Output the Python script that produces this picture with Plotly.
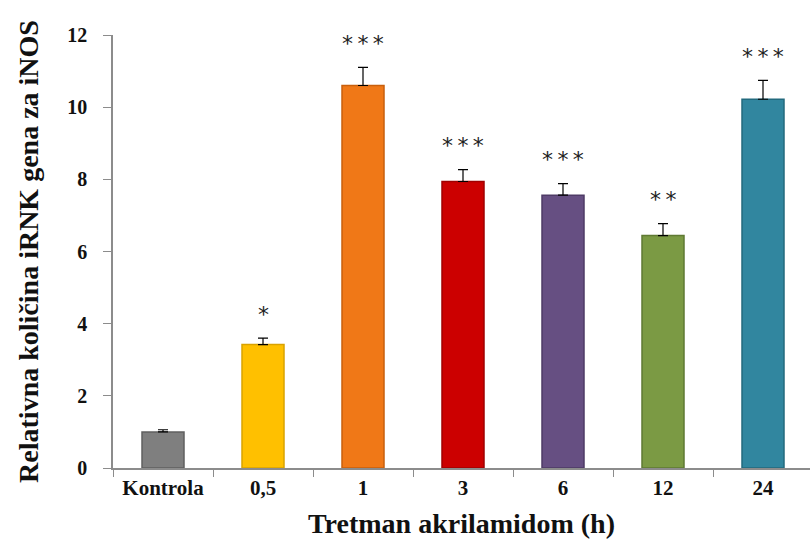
import plotly.graph_objects as go

categories = ["Kontrola", "0,5", "1", "3", "6", "12", "24"]
values = [1.0, 3.42, 10.6, 7.94, 7.56, 6.44, 10.22]
errors = [0.06, 0.18, 0.5, 0.33, 0.32, 0.33, 0.52]
significance = ["", "*", "*\u2009*\u2009*", "*\u2009*\u2009*", "*\u2009*\u2009*", "*\u2009*", "*\u2009*\u2009*"]
bar_colors = ["#7f7f7f", "#ffc000", "#f07817", "#cc0000", "#664f82", "#7b9a44", "#31869f"]
edge_colors = ["#606060", "#d9a200", "#c85f0c", "#a00000", "#4e3b66", "#5f7a33", "#236a7e"]

serif = "Liberation Serif, Times New Roman, serif"

fig = go.Figure()
fig.add_trace(go.Bar(
    x=categories,
    y=values,
    width=0.42,
    marker=dict(color=bar_colors, line=dict(color=edge_colors, width=1.5)),
    error_y=dict(type="data", array=errors, arrayminus=[0] * len(errors),
                 symmetric=False, color="#000000", thickness=1.2, width=5),
    showlegend=False,
))

# significance marks sit above each error bar (x given as category index)
for i, (v, e, s) in enumerate(zip(values, errors, significance)):
    if s:
        fig.add_annotation(
            x=i, y=v + e, text=s, showarrow=False, yshift=24,
            font=dict(family="DejaVu Sans, Arial, sans-serif", size=22, color="#222222"),
        )

fig.update_layout(
    width=810, height=554,
    margin=dict(l=113, r=0, t=35, b=86),
    paper_bgcolor="white", plot_bgcolor="white",
    xaxis=dict(
        type="category",
        range=[-0.5, 6.47],
        showline=True, linecolor="#8c8c8c", linewidth=1.5,
        ticks="outside", tickson="boundaries", ticklen=7, tickcolor="#8c8c8c",
        tickfont=dict(family=serif, size=21, color="#111111", weight="bold"),
        title=dict(text="<b>Tretman akrilamidom (h)</b>", standoff=14,
                   font=dict(family=serif, size=28, color="#111111")),
        showgrid=False,
    ),
    yaxis=dict(
        range=[0, 12], dtick=2,
        showline=True, linecolor="#8c8c8c", linewidth=1.5,
        ticks="outside", ticklen=8, tickcolor="#8c8c8c",
        ticklabelstandoff=12,
        tickfont=dict(family=serif, size=20, color="#111111", weight="bold"),
        title=dict(text="<b>Relativna količina iRNK gena za iNOS</b>", standoff=20,
                   font=dict(family=serif, size=28, color="#111111")),
        showgrid=False, zeroline=False,
    ),
)

fig.write_html("out.html")
